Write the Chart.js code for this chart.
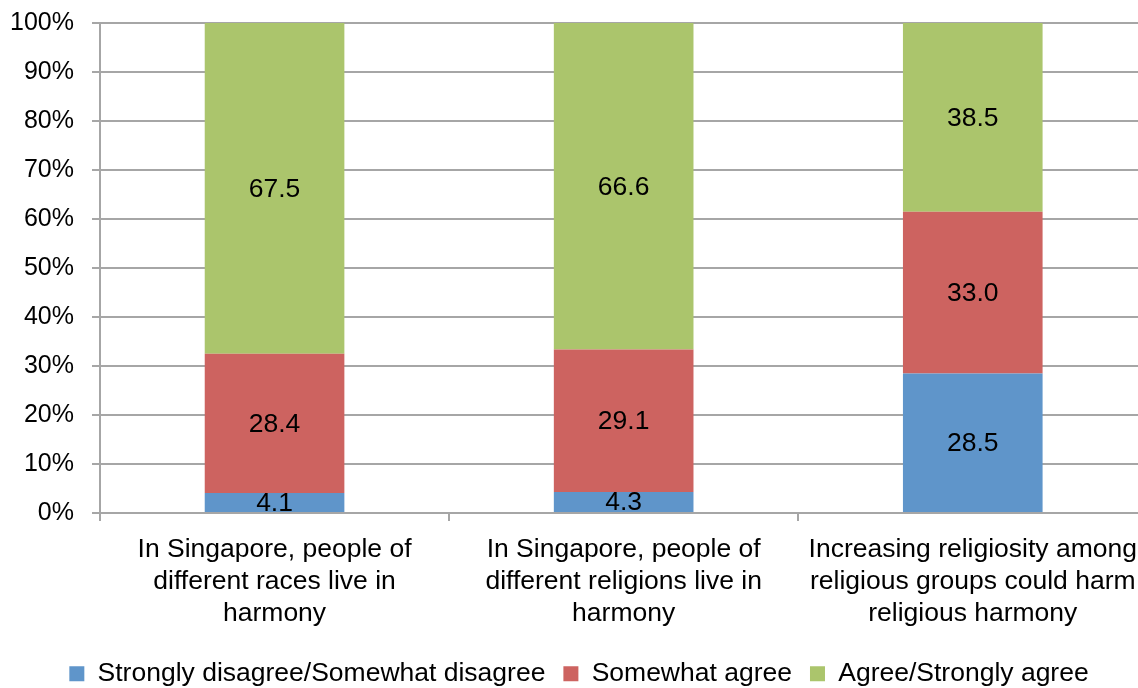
<!DOCTYPE html>
<html>
<head>
<meta charset="utf-8">
<script src="https://cdn.jsdelivr.net/npm/chart.js@4/dist/chart.umd.min.js"></script>
<style>
  html, body { margin: 0; padding: 0; background: #fff; overflow: hidden; }
  #wrap { width: 1150px; height: 688px; }
</style>
</head>
<body>
<div id="wrap"><canvas id="chart"></canvas></div>
<script>
// Survey on racial / religious harmony, stacked to 100%
const categories = [
    ['In Singapore, people of', 'different races live in', 'harmony'],
    ['In Singapore, people of', 'different religions live in', 'harmony'],
    ['Increasing religiosity among', 'religious groups could harm', 'religious harmony']
];
const seriesNames = ['Strongly disagree/Somewhat disagree', 'Somewhat agree', 'Agree/Strongly agree'];
const disagree = [4.1, 4.3, 28.5];
const somewhatAgree = [28.4, 29.1, 33.0];
const agree = [67.5, 66.6, 38.5];
const yTicks = [0, 10, 20, 30, 40, 50, 60, 70, 80, 90, 100];

const FONT = 'Liberation Sans, Arial, sans-serif';
Chart.defaults.font.family = FONT;
Chart.defaults.color = '#000';

// draws the value in the middle of each segment
const segmentLabels = {
    id: 'segmentLabels',
    afterDatasetsDraw(chart) {
        const ctx = chart.ctx;
        ctx.save();
        ctx.font = '26.5px ' + FONT;
        ctx.fillStyle = '#000';
        ctx.textAlign = 'center';
        ctx.textBaseline = 'middle';
        chart.data.datasets.forEach((ds, i) => {
            chart.getDatasetMeta(i).data.forEach((bar, j) => {
                const p = bar.getProps(['x', 'y', 'base'], true);
                ctx.fillText(ds.data[j].toFixed(1), p.x, (p.y + p.base) / 2 + 1);
            });
        });
        ctx.restore();
    }
};

new Chart(document.getElementById('chart').getContext('2d'), {
    type: 'bar',
    data: {
        labels: categories,
        datasets: [
            { label: seriesNames[0], data: disagree, backgroundColor: '#5f95ca' },
            { label: seriesNames[1], data: somewhatAgree, backgroundColor: '#cd6360' },
            { label: seriesNames[2], data: agree, backgroundColor: '#abc56c' }
        ]
    },
    options: {
        responsive: true,
        maintainAspectRatio: false,
        animation: false,
        layout: { padding: { top: 23, left: 8, right: 0, bottom: -9 } },
        datasets: { bar: { categoryPercentage: 0.4, barPercentage: 1 } },
        plugins: {
            legend: {
                position: 'bottom',
                labels: {
                    font: { size: 26.5 },
                    boxWidth: 15,
                    boxHeight: 15,
                    padding: 18
                }
            },
            tooltip: { enabled: false }
        },
        scales: {
            x: {
                stacked: true,
                grid: {
                    offset: true,
                    drawOnChartArea: false,
                    tickLength: 8,
                    color: '#a6a6a6',
                    lineWidth: 2
                },
                border: { color: '#a6a6a6', width: 2 },
                ticks: { font: { size: 26.5, lineHeight: 1.2 }, padding: 13, maxRotation: 0 }
            },
            y: {
                stacked: true,
                min: 0,
                max: 100,
                afterBuildTicks: axis => { axis.ticks = yTicks.map(v => ({ value: v })); },
                afterFit: axis => {
                    axis.width = 92;
                    axis.paddingTop = 0;
                    axis.paddingBottom = 0;
                },
                grid: { tickLength: 8, color: '#a6a6a6', lineWidth: 2 },
                border: { color: '#a6a6a6', width: 2 },
                ticks: { font: { size: 25 }, padding: 18, callback: v => v + '%' }
            }
        }
    },
    plugins: [segmentLabels]
});
</script>
</body>
</html>
